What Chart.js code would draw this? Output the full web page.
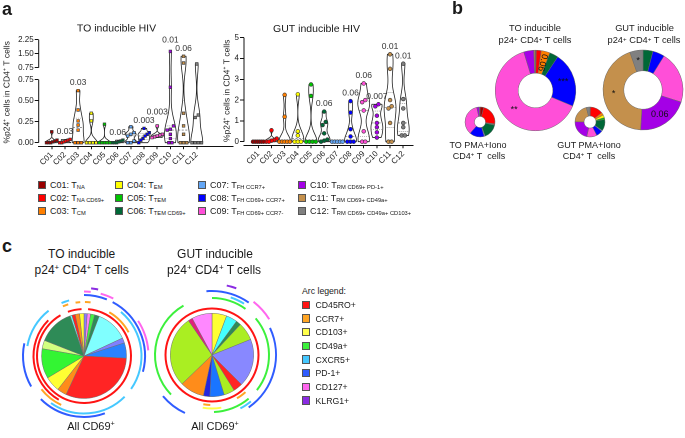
<!DOCTYPE html>
<html>
<head>
<meta charset="utf-8">
<script src="https://cdn.jsdelivr.net/npm/chart.js@4.4.1/dist/chart.umd.min.js"></script>
<style>
html,body{margin:0;padding:0;background:#fff;}
#root{position:relative;width:685px;height:438px;overflow:hidden;font-family:"Liberation Sans",Arial,sans-serif;color:#1a1a1a;}
#root canvas{position:absolute;}
.lbl{position:absolute;white-space:nowrap;transform:translate(-50%,-50%);line-height:1;}
.lft{position:absolute;white-space:nowrap;transform:translate(0,-50%);line-height:1;}
.panel{position:absolute;font-weight:bold;font-size:18px;line-height:1;}
.sw{position:absolute;box-sizing:border-box;border:0.7px solid #555;}
sub{font-size:0.64em;vertical-align:-0.3em;line-height:0;}
sup{font-size:0.66em;vertical-align:0.45em;line-height:0;}
</style>
</head>
<body>
<div id="root"></div>
<script>
// ---------------- DATA ----------------
const categories = ['C01','C02','C03','C04','C05','C06','C07','C08','C09','C10','C11','C12'];
const legendSubs = ['NA','NA CD69+','CM','EM','TEM','TEM CD69+','FH CCR7+','FH CD69+ CCR7+','FH CD69+ CCR7-','RM CD69+ PD-1+','RM CD69+ CD49a+','RM CD69+ CD49a+ CD103+'];
const catColors = ['#990000','#ff0000','#ff7f00','#ffff00','#00c400','#006837','#63a6f5','#0000ff','#ff4fd8','#a400e6','#c4904c','#808080'];

// panel a: TO inducible HIV (% p24+ cells in CD4+ T cells)
const toValues = [
  [0,0,0,0.01,0.02,0.03,0.13],
  [0,0,0.01,0.02,0.03,0.04],
  [0.62,0.39,0.26,0.21,0.15,0,0,0],
  [0.35,0.26,0,0,0,0],
  [0.22,0,0,0,0,0],
  [0.03,0.02,0.01,0,0,0],
  [0.19,0.12,0.10,0.08,0.02,0,0],
  [0.17,0.12,0.10,0.08,0.05,0.03,0],
  [0.20,0.10,0.09,0.08,0.07,0.06],
  [1.62,0.66,0.20,0.16,0.15,0.10,0.05,0,0],
  [1.36,1.0,0.35,0.20,0.10,0,0,0],
  [0.95,0.33,0.30,0,0,0,0]
];
const toPLabels = ['','0.03','0.03','','','0.06','','0.003','0.003','0.01','0.06',''];
const toTickValues = [0,0.25,0.5,0.75,0.75,1.5,2.25];
const toTickLabels = ['0.00','0.25','0.50','0.75','0.75','1.50','2.25'];

// panel a: GUT inducible HIV
const gutValues = [
  [0,0,0,0,0,0],
  [0.55,0.15,0.08,0.05,0,0],
  [2.25,1.2,0,0,0,0,0],
  [2.28,0.5,0.3,0,0,0],
  [2.75,2.2,0,0,0,0],
  [1.45,0.95,0.8,0.4,0.1,0.05,0],
  [0,0,0,0,0],
  [1.95,1.4,0.6,0.25,0,0,0],
  [2.8,2.0,1.9,1.5,0.5,0,0],
  [1.8,1.7,1.25,0.9,0.7,0.45,0.2],
  [4.2,3.5,2.0,1.7,1.6,0.9,0,0],
  [3.75,2.05,1.6,0.9,0.7,0.3,0.3]
];
const gutPLabels = ['','','','','','0.06','','0.06','0.06','0.007','0.01','0.01'];
const gutTickValues = [0,1,2,3,4,5];
const gutTickLabels = ['0','1','2','3','4','5'];

// panel b: cluster composition (% of cells), C01..C12
const toInducible = [0.3,2,3.5,0,0,3.5,0,22,64,4,0.5,0.2];
const toInducibleLabels = ['','','0.06','','','','','***','**','','',''];
const gutInducible = [0,0,0,0,0,4,0,4.8,21,21,43.6,5.3];
const gutInducibleLabels = ['','','','','','','','','','0.06','*','*'];
const toPma = [4,23,0.5,0.5,0.5,16,1,16,35,2.5,0.5,0.5];
const gutPma = [0.5,14,3,3,2,12.5,1,7,11,22,21,4];

// panel c: pie slices (degrees, clockwise from top)
const toPieSlices = [4.4,4.6,5.6,6.4,44,7,21,112,13,21,41,11.5,49.5,2.5,4.5,6,6];
const toPieColors = ['#8a7dff','#ff85f5','#44f044','#2e8b57','#80ffff','#8080ff','#2a82ff','#ff2424','#ff8c1a','#ffff33','#33f533','#d2ff80','#2e8b57','#66ffff','#ff2424','#ff8c1a','#ffff33'];
const gutPieSlices = [20.5,15.5,7,25,67,13,15,20,9,34,99.6,6.1,28.3];
const gutPieColors = ['#ffff33','#44ffff','#2e8b57','#aaee22','#8888ff','#ff2424','#aaee22','#1a75ff','#2525dd','#ff8c1a','#aaee22','#e0207a','#ff88ff'];

// panel c: arcs [startDeg, endDeg, markerIndex], rings listed inner -> outer
const arcMarkers = ['CD45RO+','CCR7+','CD103+','CD49a+','CXCR5+','PD-1+','CD127+','KLRG1+'];
const arcColors = ['#ff1414','#ffa524','#ffff4a','#3cf03c','#45c8ff','#2f5cff','#ff66ee','#8a2be2'];
const toArcRings = [
  [[5,330,0],[340,357,0]],
  [[30,62,1],[210,315,0]],
  [[1,7,1],[205,232,1],[337,343,1],[351,356,1]],
  [[40,125,4],[135,215,4],[280,322,4],[337,345,4]],
  [[0,22,5],[28,105,5],[160,225,5],[240,282,5]],
  [[0,6,6],[15,27,6],[57,85,6]],
  [[6,12,7]]
];
const gutArcRings = [
  [[0,360,0]],
  [[138,150,1],[182,190,1]],
  [[170,190,2]],
  [[0,36,3],[50,128,3],[140,178,3],[226,330,3]],
  [[18,32,4],[140,152,4]],
  [[0,35,5],[65,145,5],[205,230,5],[355,360,5]],
  [[38,58,6]],
  [[12,20,7]]
];

// ---------------- SETUP ----------------
Chart.defaults.font.family = "'Liberation Sans', Arial, sans-serif";
Chart.defaults.color = '#1a1a1a';
Chart.defaults.animation = false;
const root = document.getElementById('root');
const FONT = "'Liberation Sans', Arial, sans-serif";

function mkCanvas(left, top, w, h){
  const c = document.createElement('canvas');
  c.width = w; c.height = h;
  c.style.left = left+'px'; c.style.top = top+'px';
  c.style.width = w+'px'; c.style.height = h+'px';
  root.appendChild(c); return c;
}
function txt(html, x, y, size, cls, extra){
  const d = document.createElement('div');
  d.className = cls || 'lbl';
  d.style.left = x+'px'; d.style.top = y+'px'; d.style.fontSize = size+'px';
  if (extra) Object.assign(d.style, extra);
  d.innerHTML = html; root.appendChild(d); return d;
}

// ---------------- VIOLINS ----------------
function swarm(tv, unitPx){
  const idx = tv.map((v,i)=>i).sort((a,b)=>tv[a]-tv[b]);
  const offs = new Array(tv.length).fill(0);
  let g = [idx[0]];
  const flush = () => { const n=g.length; const step=Math.min(0.24, 0.8/Math.max(n-1,1)); g.forEach((k,j)=>offs[k]=(j-(n-1)/2)*step); };
  for (let j=1;j<idx.length;j++){
    if ((tv[idx[j]]-tv[idx[j-1]])*unitPx < 3.5) g.push(idx[j]); else { flush(); g=[idx[j]]; }
  }
  flush(); return offs;
}
function violinPlugin(cfg){
  return {
    id:'violin',
    beforeDatasetsDraw(chart){
      const {ctx, scales:{x,y}, chartArea} = chart;
      ctx.save();
      ctx.strokeStyle='#111'; ctx.lineWidth=1;
      cfg.axisSegments.forEach(([a,b])=>{ ctx.beginPath(); ctx.moveTo(chartArea.left, y.getPixelForValue(a)); ctx.lineTo(chartArea.left, y.getPixelForValue(b)); ctx.stroke(); });
      cfg.values.forEach((vals, ci)=>{
        const tv = vals.map(cfg.tf).sort((a,b)=>a-b);
        const lo=tv[0], hi=tv[tv.length-1], rg=hi-lo;
        if (rg<=0) return;
        const h = rg*0.14;
        const dens = yy => tv.reduce((s,v)=>{const z=(yy-v)/h; return s+Math.exp(-0.5*z*z);},0);
        const N=80, pts=[]; let mx=0;
        for (let i=0;i<=N;i++){ const yy=lo+rg*i/N; const d=dens(yy); pts.push([yy,d]); mx=Math.max(mx,d); }
        const hw = cfg.halfWidth;
        ctx.beginPath();
        pts.forEach(([yy,d],i)=>{ const px=x.getPixelForValue(ci+d/mx*hw), py=y.getPixelForValue(yy); if(i) ctx.lineTo(px,py); else ctx.moveTo(px,py); });
        for (let i=N;i>=0;i--){ const [yy,d]=pts[i]; ctx.lineTo(x.getPixelForValue(ci-d/mx*hw), y.getPixelForValue(yy)); }
        ctx.closePath();
        ctx.fillStyle='#fff'; ctx.fill();
        ctx.strokeStyle='#222'; ctx.lineWidth=0.8; ctx.stroke();
        const q = p => { const pos=(tv.length-1)*p, a=Math.floor(pos), b=Math.ceil(pos); return tv[a]+(tv[b]-tv[a])*(pos-a); };
        [[0.5,[2,1.5]],[0.25,[0.8,1.2]],[0.75,[0.8,1.2]]].forEach(([p,dash])=>{
          const yy=q(p); const w=dens(yy)/mx*hw;
          ctx.setLineDash(dash); ctx.lineWidth=0.6; ctx.strokeStyle='#555';
          ctx.beginPath(); ctx.moveTo(x.getPixelForValue(ci-w), y.getPixelForValue(yy)); ctx.lineTo(x.getPixelForValue(ci+w), y.getPixelForValue(yy)); ctx.stroke();
        });
        ctx.setLineDash([]);
      });
      ctx.restore();
    },
    afterDatasetsDraw(chart){
      const {ctx, scales:{x,y}} = chart;
      ctx.save();
      ctx.font = '8.5px '+FONT; ctx.fillStyle='#333'; ctx.textAlign='center'; ctx.textBaseline='bottom';
      const pys = cfg.pLabels.map((l,ci)=> l ? y.getPixelForValue(Math.max(...cfg.values[ci].map(cfg.tf)))-3.5 : null);
      for (let i=1;i<pys.length;i++){
        if (pys[i]===null || pys[i-1]===null) continue;
        if (Math.abs(pys[i]-pys[i-1]) < 8.5){
          if (pys[i] <= pys[i-1]) pys[i] = pys[i-1]-8.5; else pys[i-1] = pys[i]-8.5;
        }
      }
      cfg.pLabels.forEach((l,ci)=>{ if(l) ctx.fillText(l, x.getPixelForValue(ci), pys[ci]); });
      ctx.restore();
    }
  };
}
function buildViolin(canvas, cfg){
  const datasets = cfg.values.map((vals,ci)=>{
    const tv = vals.map(cfg.tf);
    const offs = swarm(tv, cfg.unitPx);
    return { data: tv.map((yv,k)=>({x: ci+offs[k], y: yv})), backgroundColor: catColors[ci], borderColor:'#333', borderWidth:0.6, pointRadius: cfg.pointRadius, pointStyle: cfg.pointStyle };
  });
  const tickT = cfg.tickValues.map((v,i)=>cfg.tickTf(v,i));
  return new Chart(canvas, {
    type:'scatter',
    data:{datasets},
    options:{
      responsive:false, devicePixelRatio:2, animation:false, events:[],
      layout:{padding:{left:0,right:cfg.padRight,top:0,bottom:0}},
      plugins:{
        legend:{display:false}, tooltip:{enabled:false},
        title:{display:true, text:cfg.title, font:{size:10.5, weight:'normal'}, color:'#1a1a1a', padding:{top:cfg.titleTop, bottom:cfg.titleBottom}}
      },
      scales:{
        x:{ type:'linear', min:cfg.xmin, max:cfg.xmax,
            afterBuildTicks: s => { s.ticks = categories.map((c,i)=>({value:i})); },
            afterFit: s => { s.height = cfg.xHeight; },
            ticks:{ autoSkip:false, minRotation:45, maxRotation:45, font:{size:8}, color:'#1a1a1a', padding:1, callback:(v,i)=>categories[i] },
            grid:{ display:true, drawOnChartArea:false, drawTicks:true, tickLength:2.5, color:'#111' },
            border:{ display:true, color:'#111', width:1 } },
        y:{ type:'linear', min:cfg.ymin, max:cfg.ymax,
            afterBuildTicks: s => { s.ticks = tickT.map(v=>({value:v})); },
            afterFit: s => { s.width = cfg.yWidth; },
            ticks:{ font:{size:8}, color:'#1a1a1a', padding:1, callback:(v,i)=>cfg.tickLabels[i] },
            grid:{ display:true, drawOnChartArea:false, drawTicks:true, tickLength:4, color:'#111' },
            border:{ display:false },
            title:{ display:true, text:'%p24\u207A cells in CD4\u207A T cells', font:{size:8.5}, color:'#1a1a1a', padding:{top:2,bottom:1} } }
      }
    },
    plugins:[violinPlugin(cfg)]
  });
}

// broken axis transform for TO panel
const BRK=0.75, GAP=0.143, KTOP=0.222;
const tfTO = v => v>BRK ? BRK+GAP+(v-BRK)*KTOP : v;
buildViolin(mkCanvas(0,0,238,178), {
  values: toValues, pLabels: toPLabels, title:'TO inducible HIV',
  tf: tfTO, tickValues: toTickValues, tickLabels: toTickLabels,
  tickTf: (v,i)=> i>=4 ? BRK+GAP+(v-BRK)*KTOP : v,
  axisSegments: [[0,BRK],[BRK+GAP, BRK+GAP+1.5*KTOP]],
  unitPx:84, halfWidth:0.45, pointRadius:1.9, pointStyle:'rect',
  ymin:-0.0476, ymax:1.246, xmin:-0.99, xmax:13.75,
  xHeight:31.3, yWidth:38.7, padRight:5, titleTop:22.5, titleBottom:2.9
});
buildViolin(mkCanvas(220,0,200,178), {
  values: gutValues, pLabels: gutPLabels, title:'GUT inducible HIV',
  tf: v=>v, tickValues: gutTickValues, tickLabels: gutTickLabels,
  tickTf: v=>v, axisSegments: [[0,5]],
  unitPx:20.8, halfWidth:0.45, pointRadius:1.9, pointStyle:'circle',
  ymin:-0.192, ymax:5.08, xmin:-1.085, xmax:11.74,
  xHeight:32.3, yWidth:24, padRight:7, titleTop:22.8, titleBottom:0.6
});

// ---------------- DONUTS (panel b) ----------------
function segLabelPlugin(labels, rotIdx){
  return { id:'seglabels', afterDatasetsDraw(chart){
    const meta = chart.getDatasetMeta(0), ctx = chart.ctx;
    ctx.save(); ctx.font='9px '+FONT; ctx.fillStyle='#111'; ctx.textAlign='center'; ctx.textBaseline='middle';
    meta.data.forEach((arc,i)=>{
      if(!labels[i]) return;
      const p = arc.tooltipPosition();
      ctx.save(); ctx.translate(p.x,p.y);
      if (rotIdx.includes(i)) ctx.rotate((arc.startAngle+arc.endAngle)/2+Math.PI);
      ctx.fillText(labels[i],0,0); ctx.restore();
    });
    ctx.restore();
  }};
}
function buildDonut(cx, cy, r, cut, data, labels, rotIdx){
  const s = Math.ceil(2*r+6);
  const c = mkCanvas(cx-s/2, cy-s/2, s, s);
  new Chart(c, {
    type:'doughnut',
    data:{ labels: categories, datasets:[{ data, backgroundColor: catColors, borderColor:'#6a6a6a', borderWidth:0.5, hoverOffset:0 }] },
    options:{ responsive:false, devicePixelRatio:2, animation:false, events:[], cutout:cut, radius:r,
      plugins:{legend:{display:false}, tooltip:{enabled:false}} },
    plugins: labels ? [segLabelPlugin(labels, rotIdx||[])] : []
  });
}
buildDonut(535.3, 90.3, 40.3, '43%', toInducible, toInducibleLabels, [2]);
buildDonut(643, 90.3, 40, '48%', gutInducible, gutInducibleLabels, []);
buildDonut(480, 121.7, 15, '37%', toPma, null);
buildDonut(590, 121.7, 15, '40%', gutPma, null);

// ---------------- PIES WITH ARCS (panel c) ----------------
function ringDataset(arcs, lw){
  const segs = arcs.slice().sort((a,b)=>a[0]-b[0]);
  const data=[], colors=[]; let cur=0;
  segs.forEach(([s,e,m])=>{ if(s>cur){ data.push(s-cur); colors.push('rgba(0,0,0,0)'); } data.push(e-s); colors.push(arcColors[m]); cur=e; });
  if (cur<360){ data.push(360-cur); colors.push('rgba(0,0,0,0)'); }
  return { data, backgroundColor:colors, borderWidth:0, weight:lw, hoverOffset:0 };
}
function buildPie(cx, cy, slices, colors, rings, pieR, r0, pitch, lw){
  const n = rings.length;
  const outer = r0+(n-1)*pitch+lw/2;
  const ds = [];
  for (let i=n-1;i>=0;i--){
    ds.push(ringDataset(rings[i], lw));
    const innerEdge = r0+i*pitch-lw/2;
    const prevOuter = i>0 ? r0+(i-1)*pitch+lw/2 : pieR;
    ds.push({ data:[1], backgroundColor:['rgba(0,0,0,0)'], borderWidth:0, weight:innerEdge-prevOuter, hoverOffset:0 });
  }
  ds.push({ data:slices, backgroundColor:colors, borderColor:'#707070', borderWidth:0.5, weight:pieR, hoverOffset:0 });
  const s = Math.ceil(2*outer+6);
  const c = mkCanvas(cx-s/2, cy-s/2, s, s);
  new Chart(c, { type:'doughnut', data:{datasets:ds},
    options:{ responsive:false, devicePixelRatio:2, animation:false, events:[], cutout:0, radius:outer,
      plugins:{legend:{display:false}, tooltip:{enabled:false}} } });
}
buildPie(83.5, 355.5, toPieSlices, toPieColors, toArcRings, 42.5, 47, 3.5, 2);
buildPie(212.3, 355, gutPieSlices, gutPieColors, gutArcRings, 41.7, 46.5, 3.5, 2);

// ---------------- TEXT / LEGENDS ----------------
txt('a', 2, 0, 18, 'panel');
txt('b', 452, -1, 18, 'panel');
txt('c', 2, 237, 18, 'panel');

// panel b labels
txt('TO inducible', 535, 29, 9.3);
txt('p24<sup>+</sup> CD4<sup>+</sup> T cells', 535, 41, 9.3);
txt('GUT inducible', 644.5, 29, 9.3);
txt('p24<sup>+</sup> CD4<sup>+</sup> T cells', 644, 41, 9.3);
txt('TO PMA+Iono', 478, 145, 9);
txt('CD4<sup>+</sup> T&nbsp; cells', 479, 156, 9);
txt('GUT PMA+Iono', 589, 145, 9);
txt('CD4<sup>+</sup> T&nbsp; cells', 589, 156, 9);

// cluster legend
const legX=[38,115,198,298], legY=[185,198,211];
categories.forEach((c,i)=>{
  const col=Math.floor(i/3), row=i%3;
  const sw=document.createElement('div'); sw.className='sw';
  Object.assign(sw.style,{left:legX[col]+'px', top:(legY[row]-4)+'px', width:'8px', height:'8px', background:catColors[i]});
  root.appendChild(sw);
  txt(c+': T<sub>'+legendSubs[i]+'</sub>', legX[col]+12, legY[row], 9, 'lft');
});

// panel c titles
txt('TO inducible', 81.7, 254, 12);
txt('p24<sup>+</sup> CD4<sup>+</sup> T cells', 81.7, 269.5, 12);
txt('GUT inducible', 215, 254, 12);
txt('p24<sup>+</sup> CD4<sup>+</sup> T cells', 214, 269.5, 12);
txt('All CD69<sup>+</sup>', 91, 426, 11);
txt('All CD69<sup>+</sup>', 215, 426, 11);

// arc legend
txt('Arc legend:', 302, 291, 8.7, 'lft');
arcMarkers.forEach((m,i)=>{
  const y = 305+i*13.65;
  const sw=document.createElement('div'); sw.className='sw';
  Object.assign(sw.style,{left:'302px', top:(y-4.2)+'px', width:'8.4px', height:'8.4px', background:arcColors[i]});
  root.appendChild(sw);
  txt(m, 315.5, y, 8.7, 'lft');
});
</script>
</body>
</html>
